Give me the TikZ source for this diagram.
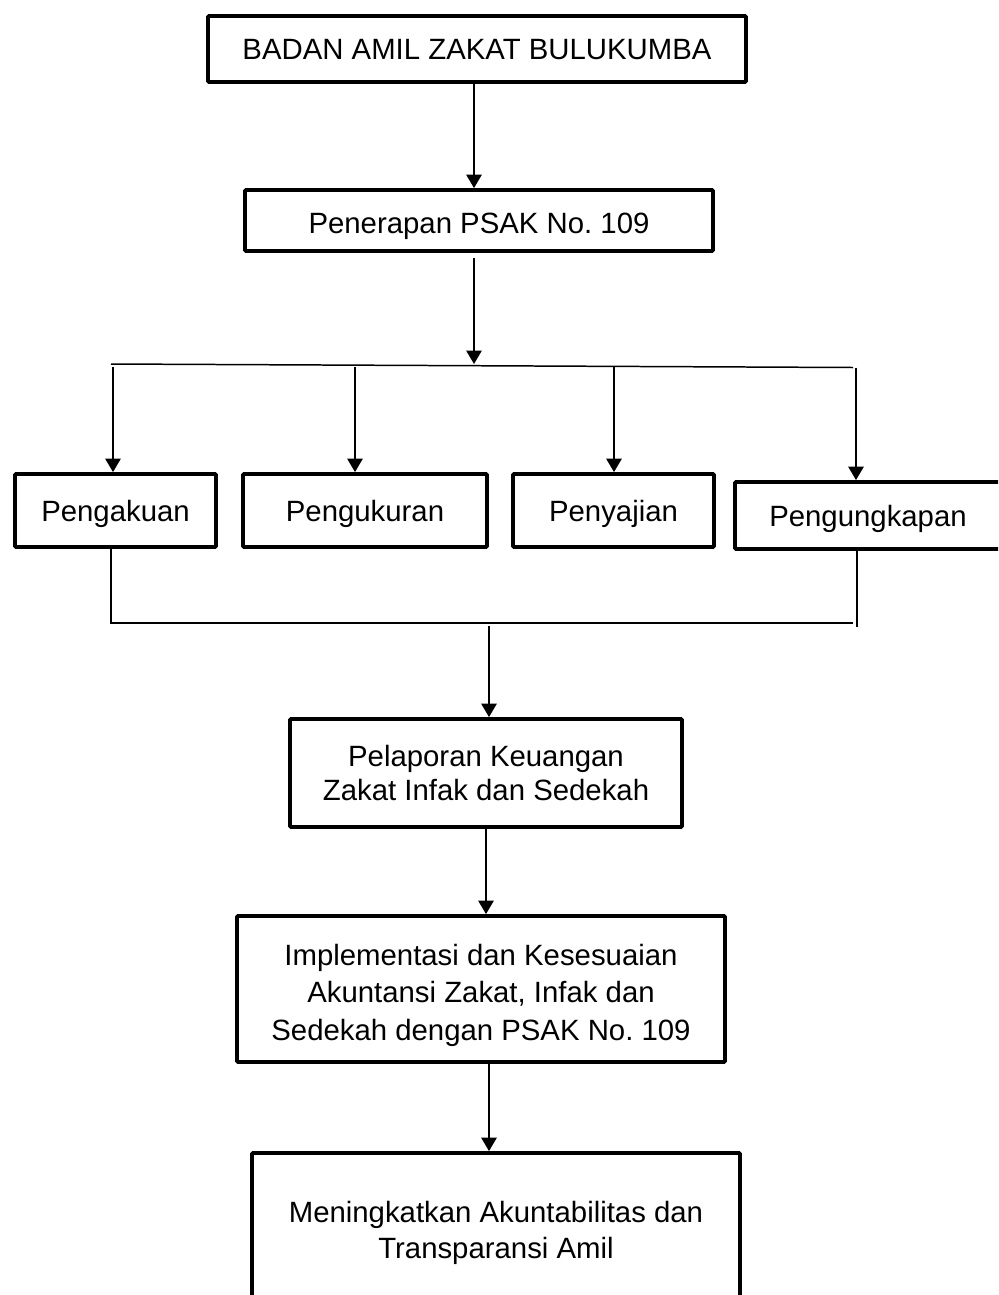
\documentclass[tikz,border=0pt]{standalone}
\usepackage{fontspec}
\setmainfont{Liberation Sans}
\frenchspacing
\usetikzlibrary{arrows.meta}
\tikzset{
  box/.style={draw=black, line width=2.2pt, rectangle, rounded corners=0.6pt, inner sep=0pt, align=center,
    font=\fontsize{16.7}{19.5}\selectfont},
  one/.style={text height=11.96pt, text depth=0pt},
  conn/.style={draw=black, line width=0.85pt},
  arr/.style={conn, -{Triangle[length=0.27cm, width=0.31cm]}}
}
\begin{document}
\begin{tikzpicture}[x=0.02cm, y=-0.02cm]
\useasboundingbox (0,0) rectangle (998,1295);
\clip (0,0) rectangle (998,1295);
% boxes
\node[box, one, minimum width=538*0.02cm, minimum height=66*0.02cm] (bam) at (477,49) {BADAN AMIL ZAKAT BULUKUMBA};
\node[box, one, minimum width=468*0.02cm, minimum height=61*0.02cm] (pen) at (479,220.5) {\raisebox{-1.4pt}{Penerapan PSAK No. 109}};
\node[box, one, minimum width=201*0.02cm, minimum height=73*0.02cm] (pak) at (115.5,510.5) {Pengakuan};
\node[box, one, minimum width=244*0.02cm, minimum height=73*0.02cm] (puk) at (365,510.5) {Pengukuran};
\node[box, one, minimum width=201*0.02cm, minimum height=73*0.02cm] (pyj) at (613.5,510.5) {Penyajian};
\node[box, one, minimum width=266*0.02cm, minimum height=67*0.02cm] (pgk) at (868,515.5) {Pengungkapan};
\node[box, minimum width=392*0.02cm, minimum height=108*0.02cm] (lap) at (486,773) {Pelaporan Keuangan\\Zakat Infak dan Sedekah};
\node[box, minimum width=488*0.02cm, minimum height=146*0.02cm,
  label={[font=\fontsize{16.7}{21.3}\selectfont, align=center, inner sep=0pt, yshift=-0.12cm]center:{Implementasi dan Kesesuaian\\Akuntansi Zakat, Infak dan\\Sedekah dengan PSAK No. 109}}] (imp) at (481,989) {};
\node[box, minimum width=488*0.02cm, minimum height=153*0.02cm,
  label={[font=\fontsize{16.7}{20.5}\selectfont, align=center, inner sep=0pt, yshift=-0.06cm]center:{Meningkatkan Akuntabilitas dan\\Transparansi Amil}}] (mak) at (496,1229.5) {};
% junction coordinates
\coordinate (j1) at (474,364);
\coordinate (busL) at (111,364);
\coordinate (busR) at (853,367.5);
\coordinate (a1) at (113,367);
\coordinate (a2) at (355,367);
\coordinate (a3) at (614,367);
\coordinate (a4) at (856,367.5);
\coordinate (bL) at (111,623);
\coordinate (bR) at (857,623);
\coordinate (bEnd) at (857,627);
\coordinate (j2) at (489,626);
% connectors
\draw[arr] (bam.south -| j1) -- (pen.north -| j1);
\draw[arr] (pen.south -| j1) ++(0,5) -- (j1);
\draw[conn] (busL) -- (busR);
\draw[arr] (a1) -- (pak.north -| a1);
\draw[arr] (a2) -- (puk.north -| a2);
\draw[arr] (a3) -- (pyj.north -| a3);
\draw[arr] (a4) -- (pgk.north -| a4);
\draw[conn] (pak.south -| bL) -- (bL) -- (853,623);
\draw[conn] (pgk.south -| bR) -- (bEnd);
\draw[arr] (j2) -- (lap.north -| j2);
\draw[arr] (lap.south -| 486,0) -- (imp.north -| 486,0);
\draw[arr] (imp.south -| 489,0) -- (mak.north -| 489,0);
\end{tikzpicture}
\end{document}
